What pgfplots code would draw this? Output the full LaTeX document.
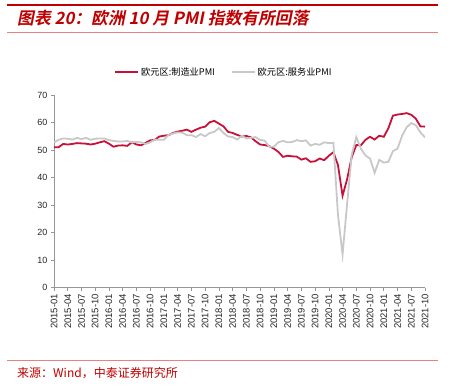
\documentclass[border=0pt]{standalone}
\usepackage{pgfplots}
\pgfplotsset{compat=1.18}
\usepackage{fontspec}
\setmainfont{Liberation Sans}
\newfontfamily\cjk{Noto Sans CJK SC}
\newfontfamily\cjktitle[FakeSlant=0.2]{Noto Sans CJK SC Bold}
\definecolor{titlered}{RGB}{192,0,0}
\definecolor{linered}{RGB}{200,16,56}
\definecolor{linegray}{RGB}{200,200,200}
\definecolor{rulepink}{RGB}{232,130,130}
\definecolor{axgray}{RGB}{150,150,150}
\begin{document}
\begin{tikzpicture}
\path (0pt,0pt) rectangle (452pt,391pt);
\draw[titlered, line width=2pt] (7pt,385.5pt) -- (438pt,385.5pt);
\node[anchor=west, text=titlered, font=\cjktitle\fontsize{16.8}{18}\selectfont, inner sep=0] at (17pt,372.5pt) {图表 20：欧洲 10 月 PMI 指数有所回落};
\draw[rulepink, line width=0.8pt] (7pt,358.5pt) -- (438pt,358.5pt);
\draw[rulepink, line width=0.8pt] (7pt,31pt) -- (438pt,31pt);
\node[anchor=west, text=titlered, font=\cjk\fontsize{12}{14}\selectfont, inner sep=0] at (17pt,18pt) {来源：Wind，中泰证券研究所};
\begin{axis}[
  at={(54pt,103.5pt)}, anchor=south west,
  scale only axis, width=371pt, height=192.5pt,
  xmin=0, xmax=81, ymin=0, ymax=70,
  axis lines*=left,
  axis line style={axgray, line width=0.6pt},
  ytick={0,10,...,70},
  xtick={0,3,...,81},
  xticklabels={2015-01,2015-04,2015-07,2015-10,2016-01,2016-04,2016-07,2016-10,2017-01,2017-04,2017-07,2017-10,2018-01,2018-04,2018-07,2018-10,2019-01,2019-04,2019-07,2019-10,2020-01,2020-04,2020-07,2020-10,2021-01,2021-04,2021-07,2021-10},
  x tick label style={rotate=90, anchor=east, font=\fontsize{9.5}{11}\selectfont, text=black!85},
  y tick label style={font=\fontsize{9}{10}\selectfont, text=black!85},
  /pgf/number format/assume math mode=true,
  tick style={axgray, line width=0.6pt},
  tick align=outside,
  major tick length=3pt,
  legend columns=2,
  legend style={at={(0.458,1.12)}, anchor=center, draw=none, fill=none,
    font=\cjk\fontsize{9.2}{10}\selectfont,
    /tikz/every even column/.append style={column sep=14pt}},
  legend image code/.code={\draw[#1, line width=1.8pt] (0pt,0pt) -- (23pt,0pt);},
]
\addplot[linered, line width=1.8pt] coordinates {
(0,51.0)(1,51.0)(2,52.2)(3,52.0)(4,52.2)(5,52.5)(6,52.4)(7,52.3)(8,52.0)(9,52.3)(10,52.8)(11,53.2)
(12,52.3)(13,51.2)(14,51.6)(15,51.7)(16,51.5)(17,52.8)(18,52.0)(19,51.7)(20,52.6)(21,53.5)(22,53.7)(23,54.9)
(24,55.2)(25,55.4)(26,56.2)(27,56.7)(28,57.0)(29,57.4)(30,56.6)(31,57.4)(32,58.1)(33,58.5)(34,60.1)(35,60.6)
(36,59.6)(37,58.6)(38,56.6)(39,56.2)(40,55.5)(41,54.9)(42,55.1)(43,54.6)(44,53.2)(45,52.0)(46,51.8)(47,51.4)
(48,50.5)(49,49.3)(50,47.5)(51,47.9)(52,47.7)(53,47.6)(54,46.5)(55,47.0)(56,45.7)(57,45.9)(58,46.9)(59,46.3)
(60,47.9)(61,49.2)(62,44.5)(63,33.4)(64,39.4)(65,47.4)(66,51.8)(67,51.7)(68,53.7)(69,54.8)(70,53.8)(71,55.2)
(72,54.8)(73,57.9)(74,62.5)(75,62.9)(76,63.1)(77,63.4)(78,62.8)(79,61.4)(80,58.6)(81,58.5)
};
\addlegendentry{欧元区:制造业PMI}
\addplot[linegray, line width=1.8pt] coordinates {
(0,52.7)(1,53.7)(2,54.2)(3,54.1)(4,53.8)(5,54.4)(6,54.0)(7,54.4)(8,53.7)(9,54.1)(10,54.2)(11,54.2)
(12,53.6)(13,53.3)(14,53.1)(15,53.1)(16,53.3)(17,52.8)(18,52.9)(19,52.8)(20,52.2)(21,52.8)(22,53.8)(23,53.7)
(24,53.7)(25,55.5)(26,56.0)(27,56.4)(28,56.3)(29,55.4)(30,55.4)(31,54.7)(32,55.8)(33,55.0)(34,56.2)(35,56.6)
(36,58.0)(37,56.2)(38,54.9)(39,54.7)(40,53.8)(41,55.2)(42,54.2)(43,54.4)(44,54.7)(45,53.7)(46,53.4)(47,51.2)
(48,51.2)(49,52.8)(50,53.3)(51,52.8)(52,52.9)(53,53.6)(54,53.2)(55,53.5)(56,51.6)(57,52.2)(58,51.9)(59,52.8)
(60,52.5)(61,52.6)(62,26.4)(63,12.0)(64,30.5)(65,48.3)(66,54.7)(67,50.5)(68,48.0)(69,46.9)(70,41.7)(71,46.4)
(72,45.4)(73,45.7)(74,49.6)(75,50.5)(76,55.2)(77,58.3)(78,59.8)(79,59.0)(80,56.4)(81,54.6)
};
\addlegendentry{欧元区:服务业PMI}
\end{axis}
\end{tikzpicture}
\end{document}
